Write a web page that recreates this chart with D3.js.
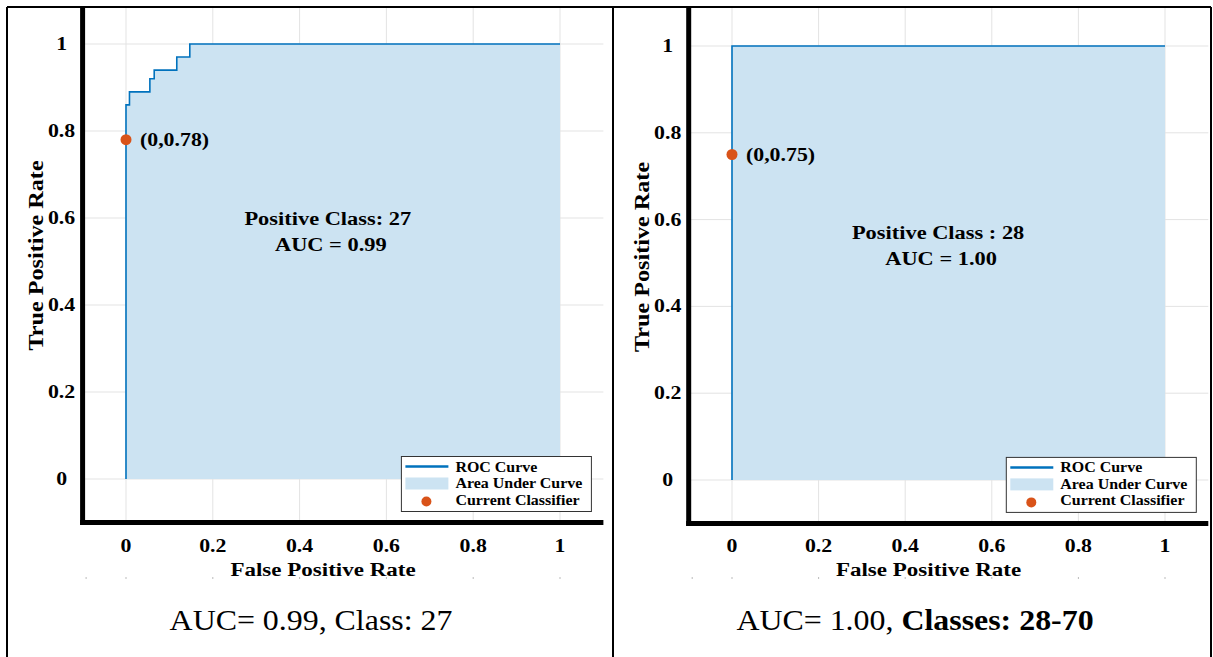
<!DOCTYPE html>
<html>
<head>
<meta charset="utf-8">
<script src="https://cdn.jsdelivr.net/npm/d3@7"></script>
<style>
  body { margin: 0; background: #fff; }
  svg { display: block; }
  text { font-family: "Liberation Serif", "Times New Roman", serif; fill: #000; }
</style>
</head>
<body>
<div id="chart"></div>
<script>
// Tick labels (both axes)
const xTicks = [0, 0.2, 0.4, 0.6, 0.8, 1];
const yTicks = [0, 0.2, 0.4, 0.6, 0.8, 1];

// ROC curve for class 27
const fpr27 = [0, 0, 0.008, 0.055, 0.065, 0.117, 0.147, 1];
const tpr27 = [0, 0.86, 0.89, 0.92, 0.94, 0.97, 1, 1];
const point27 = [0, 0.78];

// ROC curve for class 28
const fpr28 = [0, 0, 1];
const tpr28 = [0, 1, 1];
const point28 = [0, 0.75];

const legendLabels = ["ROC Curve", "Area Under Curve", "Current Classifier"];

// Colors (MATLAB style)
const LINE = "#0072BD";
const FILL = "#cce3f2";
const DOT = "#D95319";
const SX = 1.18; // text in the source is stretched a bit horizontally

const WIDTH = 1213;
const HEIGHT = 657;

const svg = d3
  .select("#chart")
  .append("svg")
  .attr("width", WIDTH)
  .attr("height", HEIGHT);

// helper for stretched text
function addText(g, x, y, str, size, opts = {}) {
  const sx = opts.sx || SX;
  const t = g
    .append("text")
    .attr("transform", `translate(${x},${y})${opts.rotate ? " rotate(-90)" : ""} scale(${sx},1)`)
    .attr("text-anchor", opts.anchor || "middle")
    .attr("font-size", size + "px")
    .attr("font-weight", opts.bold === false ? "normal" : "bold");
  if (str !== null) t.text(str);
  return t;
}

function drawPanel(cfg) {
  const g = svg.append("g");

  // clip to the table cell
  const clipId = "clip-" + cfg.id;
  svg
    .append("clipPath")
    .attr("id", clipId)
    .append("rect")
    .attr("x", cfg.cellLeft)
    .attr("y", 8)
    .attr("width", cfg.cellRight - cfg.cellLeft)
    .attr("height", HEIGHT - 8);
  g.attr("clip-path", `url(#${clipId})`);

  const x = d3.scaleLinear().domain([-0.1, 1.1]).range(cfg.xRange);
  const y = d3.scaleLinear().domain([-0.1, 1.1]).range(cfg.yRange);

  const left = cfg.xRange[0];
  const right = cfg.xRange[1];
  const bottom = cfg.yRange[0];
  const top = cfg.yRange[1];

  // grid
  g.selectAll("line.gx")
    .data(xTicks)
    .enter()
    .append("line")
    .attr("class", "gx")
    .attr("x1", (d) => x(d))
    .attr("x2", (d) => x(d))
    .attr("y1", top)
    .attr("y2", bottom)
    .attr("stroke", "#e3e3e3")
    .attr("stroke-width", 1);

  g.selectAll("line.gy")
    .data(yTicks)
    .enter()
    .append("line")
    .attr("class", "gy")
    .attr("x1", left)
    .attr("x2", right)
    .attr("y1", (d) => y(d))
    .attr("y2", (d) => y(d))
    .attr("stroke", "#e3e3e3")
    .attr("stroke-width", 1);

  const pts = cfg.fpr.map((f, i) => [f, cfg.tpr[i]]);

  // area under curve
  const area = d3
    .area()
    .curve(d3.curveStepAfter)
    .x((d) => x(d[0]))
    .y0(y(0))
    .y1((d) => y(d[1]));

  g.append("path").datum(pts).attr("d", area).attr("fill", FILL);

  // ROC line
  const line = d3
    .line()
    .curve(d3.curveStepAfter)
    .x((d) => x(d[0]))
    .y((d) => y(d[1]));

  g.append("path")
    .datum(pts)
    .attr("d", line)
    .attr("fill", "none")
    .attr("stroke", LINE)
    .attr("stroke-width", 1.6);

  // axes (thick black)
  g.append("line")
    .attr("x1", left)
    .attr("x2", left)
    .attr("y1", top)
    .attr("y2", bottom + 2.5)
    .attr("stroke", "#000")
    .attr("stroke-width", 5);
  g.append("line")
    .attr("x1", left - 2.5)
    .attr("x2", right)
    .attr("y1", bottom)
    .attr("y2", bottom)
    .attr("stroke", "#000")
    .attr("stroke-width", 5);

  // tick labels
  xTicks.forEach((d) => {
    addText(g, x(d), bottom + 29, d3.format("")(d), 18.5);
    // tiny marks under the axis label
    g.append("rect")
      .attr("x", x(d) - 0.5)
      .attr("y", 577)
      .attr("width", 1)
      .attr("height", 2)
      .attr("fill", "#bbb");
  });
  g.append("rect")
    .attr("x", left + 3)
    .attr("y", 577)
    .attr("width", 1)
    .attr("height", 2)
    .attr("fill", "#bbb");

  yTicks.forEach((d) => {
    addText(g, left - 21, y(d) + 6, d3.format("")(d), 18.5);
  });

  // axis titles
  addText(g, x(0.5) - 20, bottom + 53, "False Positive Rate", 19.5);
  addText(g, left - 40, y(0.5) - 6, "True Positive Rate", 20.5, { rotate: true });

  // current classifier
  g.append("circle")
    .attr("cx", x(cfg.point[0]))
    .attr("cy", y(cfg.point[1]))
    .attr("r", 5.5)
    .attr("fill", DOT);
  addText(g, x(cfg.point[0]) + 14, y(cfg.point[1]) + 6, `(${cfg.point[0]},${cfg.point[1].toFixed(2)})`, 18.5, { anchor: "start" });

  // annotation
  addText(g, x(cfg.noteX), y(cfg.noteY), cfg.note1, 19);
  addText(g, x(cfg.noteX) + 3, y(cfg.noteY) + 26, cfg.note2, 19);

  // legend
  const lg = g.append("g").attr("transform", `translate(${right - 202},${bottom - 66})`);
  lg.append("rect")
    .attr("width", 190)
    .attr("height", 55)
    .attr("fill", "#fff")
    .attr("stroke", "#333")
    .attr("stroke-width", 1);
  lg.append("line")
    .attr("x1", 4)
    .attr("x2", 47)
    .attr("y1", 10)
    .attr("y2", 10)
    .attr("stroke", LINE)
    .attr("stroke-width", 2.5);
  lg.append("rect")
    .attr("x", 4)
    .attr("y", 21)
    .attr("width", 43)
    .attr("height", 12)
    .attr("fill", FILL);
  lg.append("circle").attr("cx", 25).attr("cy", 45).attr("r", 5).attr("fill", DOT);
  legendLabels.forEach((lab, i) => {
    addText(lg, 54, 15 + i * 16.5, lab, 14, { anchor: "start", sx: 1.14 });
  });

  // caption
  const cap = addText(svg, cfg.capX, 630, null, 29, { bold: false, sx: 1.1 });
  cap.append("tspan").text(cfg.caption[0]);
  if (cfg.caption[1]) cap.append("tspan").attr("font-weight", "bold").text(cfg.caption[1]);
}

drawPanel({
  id: "a",
  cellLeft: 8,
  cellRight: 612,
  xRange: [82.6, 603.4],
  yRange: [522.5, 0.5],
  fpr: fpr27,
  tpr: tpr27,
  point: point27,
  noteX: 0.465,
  noteY: 0.585,
  note1: "Positive Class: 27",
  note2: "AUC = 0.99",
  capX: 311,
  caption: ["AUC= 0.99, Class: 27", null],
});

drawPanel({
  id: "b",
  cellLeft: 614,
  cellRight: 1209,
  xRange: [688.7, 1208.3],
  yRange: [523.4, 2.6],
  fpr: fpr28,
  tpr: tpr28,
  point: point28,
  noteX: 0.476,
  noteY: 0.555,
  note1: "Positive Class : 28",
  note2: "AUC = 1.00",
  capX: 915,
  caption: ["AUC= 1.00, ", "Classes: 28-70"],
});

// table borders
const borders = [
  [7, 7, 1211, 7],
  [7, 7, 7, HEIGHT],
  [613, 7, 613, HEIGHT],
  [1211, 7, 1211, HEIGHT],
];
svg
  .selectAll("line.border")
  .data(borders)
  .enter()
  .append("line")
  .attr("class", "border")
  .attr("x1", (d) => d[0])
  .attr("y1", (d) => d[1])
  .attr("x2", (d) => d[2])
  .attr("y2", (d) => d[3])
  .attr("stroke", "#000")
  .attr("stroke-width", 2);
</script>
</body>
</html>
